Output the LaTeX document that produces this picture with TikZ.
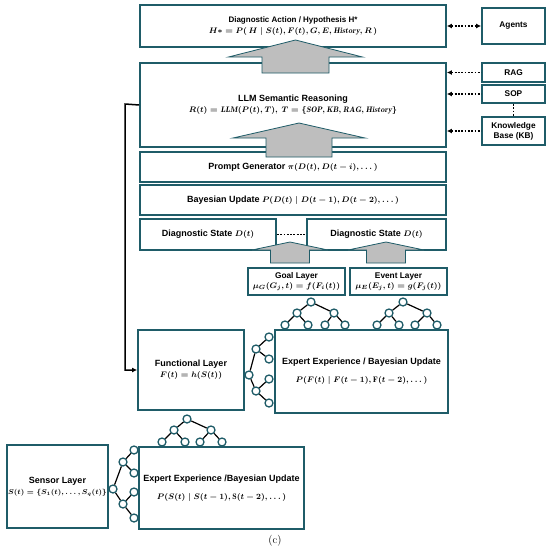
\documentclass[tikz,border=0pt]{standalone}
\usepackage{amsmath}
\usepackage{fontspec}
\setsansfont{Liberation Sans}
\usetikzlibrary{arrows.meta}

\definecolor{boxteal}{HTML}{1F5C68}
\definecolor{arrowgray}{HTML}{BEBEBE}

\newcommand{\eqsize}{\fontsize{8}{10}\selectfont}

\tikzset{
    box/.style={draw=boxteal, line width=1.8pt, fill=white, align=center, inner sep=0pt,
        font=\sffamily\bfseries\boldmath\fontsize{9}{11}\selectfont},
    smallbox/.style={box, font=\sffamily\bfseries\boldmath\fontsize{8.3}{10}\selectfont},
    grayarrow/.style={draw=boxteal, line width=0.8pt, fill=arrowgray},
    tnode/.style={circle, draw=boxteal, line width=1.3pt, fill=white, minimum size=8pt, inner sep=0pt},
    tedge/.style={line width=1.2pt, black},
    dotarrow/.style={line width=1.8pt, dash pattern=on 1.8pt off 1.5pt},
    ltip/.tip={Latex[length=5pt,width=5pt]}
}

\begin{document}
\begin{tikzpicture}[x=1pt, y=-1pt]
    \useasboundingbox (0, 0) rectangle (550, 552);

    % Top row
    \node[box, font=\sffamily\bfseries\boldmath\fontsize{8}{10.5}\selectfont,
        minimum width=306pt, minimum height=42pt] (act) at (293, 26)
        {Diagnostic Action / Hypothesis H*\\{\eqsize$H\ast = P(\,H \mid S(t), F(t), G, E, \mathit{History}, R\,)$}};
    \node[smallbox, minimum width=63pt, minimum height=36pt] (agents) at (513.5, 26) {Agents};

    % LLM block
    \node[box, minimum width=306pt, minimum height=84pt] (llm) at (293, 105)
        {LLM Semantic Reasoning\\{\eqsize$R(t) = \mathit{LLM}(P(t), T),\ T = \{\mathit{SOP}, \mathit{KB}, \mathit{RAG}, \mathit{History}\}$}};
    \node[smallbox, minimum width=63pt, minimum height=19pt] (rag) at (513.5, 72.5) {RAG};
    \node[smallbox, minimum width=63pt, minimum height=18pt] (sop) at (513.5, 94) {SOP};
    \node[smallbox, minimum width=63pt, minimum height=28pt] (kb) at (513.5, 131) {Knowledge\\Base (KB)};

    % Middle stack
    \node[box, minimum width=306pt, minimum height=30pt] (prompt) at (293, 167)
        {Prompt Generator {\eqsize$\pi(D(t), D(t-i), \dots)$}};
    \node[box, minimum width=306pt, minimum height=30pt] (bayes) at (293, 200)
        {Bayesian Update {\eqsize$P(D(t) \mid D(t-1), D(t-2), \dots)$}};
    \node[box, minimum width=136pt, minimum height=31pt] (diagA) at (208, 234.5) {Diagnostic State {\eqsize$D(t)$}};
    \node[box, minimum width=139pt, minimum height=31pt] (diagB) at (376.5, 234.5) {Diagnostic State {\eqsize$D(t)$}};
    \node[smallbox, minimum width=97pt, minimum height=27pt] (goal) at (296.5, 281.5)
        {Goal Layer\\{\eqsize$\mu_G(G_j, t) = f(F_i(t))$}};
    \node[smallbox, minimum width=97pt, minimum height=27pt] (event) at (398.5, 281.5)
        {Event Layer\\{\eqsize$\mu_E(E_j, t) = g(F_j(t))$}};

    % Functional level
    \node[box, minimum width=106pt, minimum height=80pt] (func) at (191, 370)
        {Functional Layer\\{\eqsize$F(t) = h(S(t))$}};
    \node[box, minimum width=173pt, minimum height=83pt] (expF) at (361.5, 371.5)
        {Expert Experience / Bayesian Update\\[7pt]{\eqsize$P(F(t) \mid F(t-1), \mathrm{F}(t-2), \dots)$}};

    % Sensor level
    \node[box, minimum width=101pt, minimum height=83pt] (sensor) at (57.5, 486.5)
        {Sensor Layer\\{\fontsize{7.4}{9}\selectfont$S(t) = \{S_1(t), \dots, S_q(t)\}$}};
    \node[box, minimum width=165pt, minimum height=82pt] (expS) at (221.5, 488)
        {Expert Experience /Bayesian Update\\[7pt]{\eqsize$P(S(t) \mid S(t-1), \mathrm{S}(t-2), \dots)$}};

    \node[font=\fontsize{11}{13}\selectfont] (cap) at (275, 541) {(c)};

    % Gray flow arrows
    \draw[grayarrow] (262, 73) -- (262, 57) -- (228.5, 57) -- (295.5, 40) -- (362.5, 57)
        -- (329, 57) -- (329, 73) -- cycle;
    \draw[grayarrow] (266, 157) -- (266, 138) -- (233, 138) -- (299, 123) -- (365, 138)
        -- (332, 138) -- (332, 157) -- cycle;
    \draw[grayarrow] (270.5, 263) -- (270.5, 250) -- (252, 250) -- (290, 242) -- (328, 250)
        -- (309.5, 250) -- (309.5, 263) -- cycle;
    \draw[grayarrow] (366.5, 263) -- (366.5, 250) -- (348, 250) -- (386, 242) -- (424, 250)
        -- (405.5, 250) -- (405.5, 263) -- cycle;

    % Dotted links
    \draw[dotarrow, ltip-ltip] (act.east) -- (agents.west);
    \draw[dotarrow, ltip-] (llm.east |- rag.west) -- (rag.west);
    \draw[dotarrow, ltip-] (llm.east |- sop.west) -- (sop.west);
    \draw[dotarrow, ltip-] (llm.east |- kb.west) -- (kb.west);
    \draw[dotarrow] (sop.south) -- (kb.north);
    \draw[dotarrow] (diagA.east) -- (diagB.west);

    % Feedback line
    \coordinate (fbTop) at (125, 104);
    \draw[line width=1.5pt, -ltip] (llm.west) -- (fbTop) |- (func.west);

    % Tree above expF, left
    \node[tnode] (fa0) at (311, 302) {};
    \node[tnode] (fa1) at (297, 313) {};
    \node[tnode] (fa2) at (334, 313) {};
    \node[tnode] (fa3) at (285, 325) {};
    \node[tnode] (fa4) at (308, 325) {};
    \node[tnode] (fa5) at (325, 325) {};
    \node[tnode] (fa6) at (345, 325) {};
    \draw[tedge] (fa0) -- (fa1) (fa0) -- (fa2) (fa1) -- (fa3) (fa1) -- (fa4) (fa2) -- (fa5) (fa2) -- (fa6);

    % Tree above expF, right
    \node[tnode] (fb0) at (403, 302) {};
    \node[tnode] (fb1) at (389, 313) {};
    \node[tnode] (fb2) at (427, 313) {};
    \node[tnode] (fb3) at (377, 325) {};
    \node[tnode] (fb4) at (399, 325) {};
    \node[tnode] (fb5) at (415, 325) {};
    \node[tnode] (fb6) at (437, 325) {};
    \draw[tedge] (fb0) -- (fb1) (fb0) -- (fb2) (fb1) -- (fb3) (fb1) -- (fb4) (fb2) -- (fb5) (fb2) -- (fb6);

    % Tree left of expF
    \node[tnode] (fc0) at (249, 375) {};
    \node[tnode] (fc1) at (256, 349) {};
    \node[tnode] (fc2) at (256, 391) {};
    \node[tnode] (fc3) at (269, 337) {};
    \node[tnode] (fc4) at (269, 359) {};
    \node[tnode] (fc5) at (269, 379) {};
    \node[tnode] (fc6) at (269, 403) {};
    \draw[tedge] (fc0) -- (fc1) (fc0) -- (fc2) (fc1) -- (fc3) (fc1) -- (fc4) (fc2) -- (fc5) (fc2) -- (fc6);

    % Tree above expS
    \node[tnode] (sa0) at (187, 419) {};
    \node[tnode] (sa1) at (174, 430) {};
    \node[tnode] (sa2) at (211, 430) {};
    \node[tnode] (sa3) at (162, 442) {};
    \node[tnode] (sa4) at (185, 442) {};
    \node[tnode] (sa5) at (200, 442) {};
    \node[tnode] (sa6) at (222, 442) {};
    \draw[tedge] (sa0) -- (sa1) (sa0) -- (sa2) (sa1) -- (sa3) (sa1) -- (sa4) (sa2) -- (sa5) (sa2) -- (sa6);

    % Tree left of expS
    \node[tnode] (sb0) at (113, 489) {};
    \node[tnode] (sb1) at (123, 462) {};
    \node[tnode] (sb2) at (123, 504) {};
    \node[tnode] (sb3) at (134, 450) {};
    \node[tnode] (sb4) at (134, 473) {};
    \node[tnode] (sb5) at (134, 492) {};
    \node[tnode] (sb6) at (134, 518) {};
    \draw[tedge] (sb0) -- (sb1) (sb0) -- (sb2) (sb1) -- (sb3) (sb1) -- (sb4) (sb2) -- (sb5) (sb2) -- (sb6);
\end{tikzpicture}
\end{document}
